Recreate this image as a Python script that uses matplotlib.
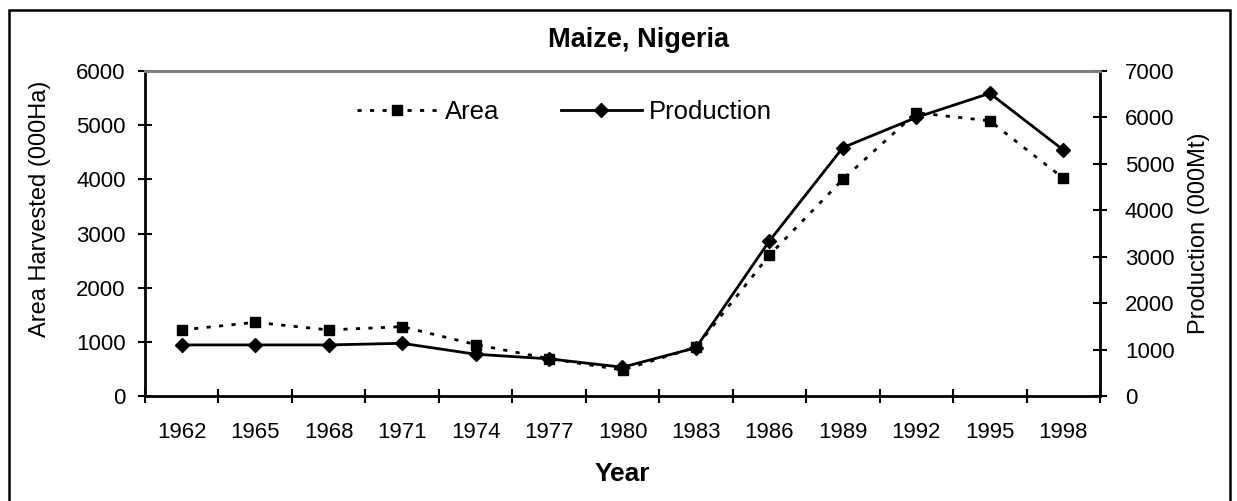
import matplotlib
matplotlib.use("Agg")
import matplotlib.pyplot as plt
import numpy as np
from matplotlib.patches import Rectangle

plt.rcParams['font.family'] = ['Liberation Sans', 'DejaVu Sans']

years = ["1962", "1965", "1968", "1971", "1974", "1977", "1980",
         "1983", "1986", "1989", "1992", "1995", "1998"]
area = [1220, 1360, 1220, 1280, 950, 690, 480, 900, 2600, 4000, 5230, 5080, 4020]
production = [1100, 1100, 1100, 1135, 900, 800, 620, 1040, 3340, 5350, 6000, 6520, 5300]

fs = 16      # ticks
fs_lab = 17  # axis titles
fs_big = 19  # title, legend, "Year"
W, H = 1237, 501
fig = plt.figure(figsize=(W / 100, H / 100), dpi=100)

# plot area in pixels: x 145..1100, y 71..396
ax = fig.add_axes([145 / W, 1 - 396 / H, (1100 - 145) / W, (396 - 71) / H])
ax2 = ax.twinx()

x = np.arange(len(years))

l1, = ax.plot(x, area, color='black', linestyle=(0, (1.5, 3)), lw=2,
              marker='s', markersize=6.5, dash_capstyle='butt', label='Area')
l2, = ax2.plot(x, production, color='black', lw=2, marker='D',
               markersize=7.5, label='Production')

ax.set_xlim(-0.5, len(years) - 0.5)
ax.set_ylim(0, 6000)
ax2.set_ylim(0, 7000)
ax.set_yticks(np.arange(0, 6001, 1000))
ax2.set_yticks(np.arange(0, 7001, 1000))

# category axis: ticks on boundaries, labels on centers
ax.set_xticks(np.arange(-0.5, len(years), 1))
ax.set_xticklabels([])
ax.set_xticks(x, minor=True)
ax.set_xticklabels(years, minor=True)
ax.tick_params(axis='x', which='major', direction='inout', length=10, width=1.5)
ax.tick_params(axis='x', which='minor', length=0, pad=19, labelsize=fs)
ax.tick_params(axis='y', direction='inout', length=10, width=1.5, labelsize=fs, pad=9)
ax2.tick_params(axis='y', direction='inout', length=10, width=1.5, labelsize=fs, pad=13)

for a in (ax, ax2):
    for s in a.spines.values():
        s.set_linewidth(2)
    a.spines['top'].set_color('#808080')
ax.spines['right'].set_visible(False)
ax2.spines['left'].set_visible(False)
ax2.spines['bottom'].set_visible(False)

ax.set_ylabel("Area Harvested (000Ha)", fontsize=fs_lab)
ax.yaxis.set_label_coords((51 - 145) / 955, (396 - 209) / 325)
ax2.set_ylabel("Production (000Mt)", fontsize=fs_lab, rotation=90)
ax2.yaxis.set_label_coords((1188 - 145) / 955, (396 - 233) / 325)
ax.set_xlabel("Year", fontsize=fs_big, fontweight='bold')
ax.xaxis.set_label_coords(0.5, (396 - 462) / 325)

fig.text(638 / W, 1 - 47 / H, "Maize, Nigeria", fontsize=fs_big + 0.5,
         fontweight='bold', ha='center', va='baseline')

ax2.legend(handles=[l1, l2], ncol=2, frameon=False, fontsize=fs_big - 0.5,
           loc='center left', bbox_to_anchor=(357 / W, 1 - 112 / H),
           bbox_transform=fig.transFigure, borderpad=0, borderaxespad=0,
           handlelength=3.15, handletextpad=0.27, columnspacing=2.4)

fig.patches.append(Rectangle((9 / W, -0.05), (1230 - 9) / W, (H - 10) / H + 0.05,
                             transform=fig.transFigure, fill=False,
                             edgecolor='black', lw=1.8))

fig.savefig("out.png", dpi=100)
